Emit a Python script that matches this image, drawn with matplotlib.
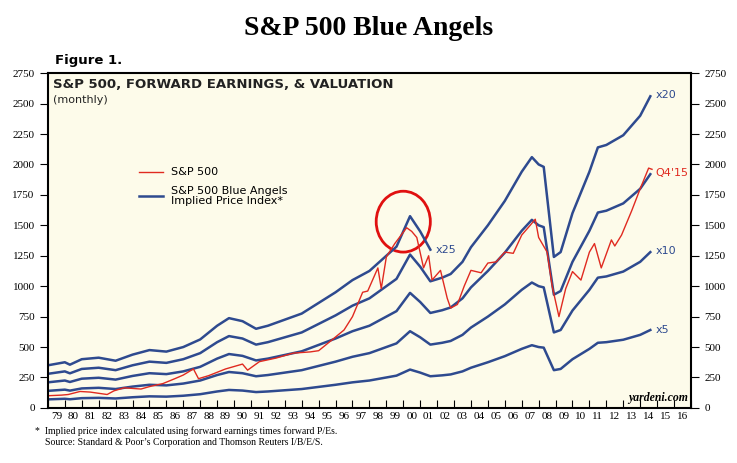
import matplotlib
matplotlib.use("Agg")
import matplotlib.pyplot as plt
import numpy as np
from matplotlib.patches import Ellipse

# Forward earnings (read from the x5..x25 multiples)
e_t = [1979.0,1980.0,1980.3,1981.0,1982.0,1983.0,1984.0,1985.0,1986.0,1987.0,1988.0,1989.0,1989.7,1990.5,1991.3,1992.0,1993.0,1994.0,1995.0,1996.0,1997.0,1998.0,1999.0,1999.6,2000.4,2001.0,2001.6,2002.3,2002.8,2003.5,2004.0,2005.0,2006.0,2007.0,2007.6,2008.0,2008.3,2008.9,2009.3,2010.0,2011.0,2011.5,2012.0,2013.0,2014.0,2014.6]
e_v = [14.0,15.0,14.2,16.0,16.5,15.5,17.5,19.0,18.5,20.0,22.5,27.0,29.5,28.5,26.0,27.0,29.0,31.0,34.5,38.0,42.0,45.0,50.0,53.0,63.0,58.0,52.0,53.5,55.0,60.0,66.0,75.0,85.0,97.0,103.0,100.0,99.0,62.0,64.0,80.0,97.0,107.0,108.0,112.0,120.0,128.0]
multiples = [5, 10, 15, 20, 25]
x25_end = 2001.6

# S&P 500 readings
sp_t = [1979.0,1979.8,1980.2,1980.9,1981.5,1982.5,1982.9,1983.5,1984.5,1985.0,1985.8,1986.5,1987.0,1987.6,1987.9,1988.5,1989.5,1990.5,1990.8,1991.5,1992.5,1993.5,1994.5,1995.0,1995.8,1996.5,1997.0,1997.6,1997.9,1998.5,1998.7,1999.0,1999.5,2000.2,2000.5,2000.8,2001.2,2001.5,2001.7,2002.2,2002.6,2002.8,2003.2,2003.6,2004.0,2004.6,2005.0,2005.5,2006.0,2006.5,2007.0,2007.5,2007.8,2008.0,2008.5,2008.8,2009.2,2009.6,2010.0,2010.5,2011.0,2011.3,2011.7,2012.3,2012.5,2012.9,2013.5,2014.0,2014.5,2014.7]
sp_v = [100,105,110,135,130,110,140,165,155,175,200,240,270,320,240,265,320,360,310,380,410,450,460,470,560,640,750,950,960,1150,980,1240,1350,1480,1450,1400,1150,1250,1050,1130,900,820,850,1000,1130,1110,1190,1200,1280,1270,1420,1500,1550,1400,1280,1000,750,980,1120,1050,1280,1350,1150,1380,1330,1420,1620,1800,1970,1960]

bg = "#FDFBEA"
blue = "#2E4A8F"
red = "#E02A20"

fig = plt.figure(figsize=(7.37, 4.63), dpi=100)
ax = fig.add_axes([0.065, 0.119, 0.8725, 0.723])
ax.set_facecolor(bg)

et = np.array(e_t); ev = np.array(e_v)
for m in multiples:
    mask = et <= x25_end if m == 25 else np.ones_like(et, bool)
    ax.plot(et[mask], ev[mask] * m, color=blue, lw=1.8)
ax.plot(sp_t, sp_v, color=red, lw=1.0)

ax.set_xlim(1979, 2017)
ax.set_ylim(0, 2750)
yt = np.arange(0, 2751, 250)
ax.set_yticks(yt)
ax.set_yticklabels([str(v) for v in yt], family="Liberation Serif", fontsize=8)
ax.tick_params(axis="y", which="both", right=True, labelright=True, direction="out", length=6)
ax.set_xticks(np.arange(1979, 2018))
ax.set_xticklabels([])
ax.set_xticks(np.arange(1979, 2017) + 0.5, minor=True)
ax.set_xticklabels(["%02d" % (y % 100) for y in range(1979, 2017)], minor=True,
                   family="Liberation Serif", fontsize=8)
ax.tick_params(axis="x", which="major", direction="in", length=6)
ax.tick_params(axis="x", which="minor", length=0, pad=3)
for s in ax.spines.values():
    s.set_linewidth(1.5)

ax.text(0.008, 0.985, "S&P 500, FORWARD EARNINGS, & VALUATION", transform=ax.transAxes,
        fontsize=9.5, fontweight="bold", va="top", color="#222222")
ax.text(0.008, 0.935, "(monthly)", transform=ax.transAxes, fontsize=8, va="top", color="#222222")

# legend
ax.plot([1984.4, 1985.8], [1940, 1940], color=red, lw=1.0)
ax.text(1986.3, 1940, "S&P 500", fontsize=8, va="center")
ax.plot([1984.4, 1985.8], [1740, 1740], color=blue, lw=1.8)
ax.text(1986.3, 1740, "S&P 500 Blue Angels\nImplied Price Index*", fontsize=8, va="center", linespacing=1.0)

ax.text(2014.9, 2570, "x20", color=blue, fontsize=8, va="center")
ax.text(2014.9, 1930, "Q4'15", color=red, fontsize=8, va="center")
ax.text(2014.9, 1285, "x10", color=blue, fontsize=8, va="center")
ax.text(2014.9, 640, "x5", color=blue, fontsize=8, va="center")
ax.text(2001.9, 1300, "x25", color=blue, fontsize=8, va="center")
ax.add_patch(Ellipse((2000.0, 1530), 3.2, 500, fill=False, color="#E01010", lw=2))
ax.text(2016.8, 60, "yardeni.com", fontsize=8.5, fontstyle="italic", fontweight="bold",
        family="Liberation Serif", ha="right")

fig.text(0.5, 0.925, "S&P 500 Blue Angels", ha="center", fontsize=20, fontweight="bold", family="Liberation Serif")
fig.text(0.075, 0.862, "Figure 1.", fontsize=9.5, fontweight="bold")
fig.text(0.048, 0.035, "*  Implied price index calculated using forward earnings times forward P/Es.\n    Source: Standard & Poor\u2019s Corporation and Thomson Reuters I/B/E/S.",
         fontsize=7, family="Liberation Serif", va="bottom")

fig.savefig("out.png", dpi=100, facecolor="white")
